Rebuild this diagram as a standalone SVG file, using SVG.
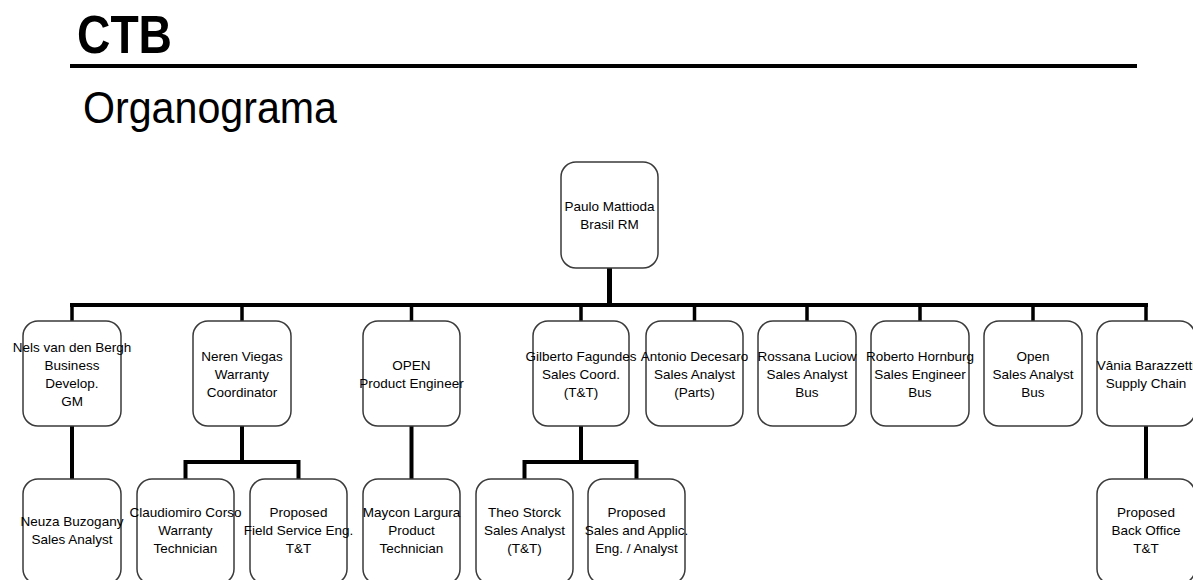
<svg xmlns="http://www.w3.org/2000/svg" width="1193" height="580" viewBox="0 0 1193 580">
  <style>
    .box { fill: #ffffff; stroke: #3a3a3a; stroke-width: 1.5; }
    .lbl { font-family: "Liberation Sans", Arial, sans-serif; font-size: 13.5px; fill: #000; text-anchor: middle; }
    .wire { fill: none; stroke: #000; stroke-width: 4; stroke-linejoin: miter; stroke-linecap: square; }
    .drop { fill: none; stroke: #000; stroke-width: 3.5; }
    .title { font-family: "Liberation Sans", Arial, sans-serif; fill: #000; }
  </style>

  <rect x="0" y="0" width="1193" height="580" fill="#ffffff"/>

  <!-- Header -->
  <g id="header">
    <text class="title" x="77" y="53" font-size="54" font-weight="bold" textLength="95" lengthAdjust="spacingAndGlyphs">CTB</text>
    <line x1="70" y1="66" x2="1137" y2="66" stroke="#000" stroke-width="4"/>
    <text class="title" x="83" y="123" font-size="45" textLength="254" lengthAdjust="spacingAndGlyphs">Organograma</text>
  </g>

  <!-- Connectors -->
  <g id="connectors">
    <line x1="609.5" y1="268" x2="609.5" y2="305" stroke="#000" stroke-width="5"/>
    <line class="wire" x1="72" y1="305" x2="1146" y2="305"/>
    <path class="drop" d="M72 305 V321 M242 305 V321 M411.5 305 V321 M581 305 V321 M694.5 305 V321 M807 305 V321 M920 305 V321 M1033 305 V321 M1146 305 V321"/>
    <path class="wire" d="M72 426 V479"/>
    <path class="wire" d="M242 426 V462 M185.5 479 V462 H298.5 V479"/>
    <path class="wire" d="M411.5 426 V479"/>
    <path class="wire" d="M581 426 V462 M524.5 479 V462 H636.5 V479"/>
    <path class="wire" d="M1146 426 V479"/>
  </g>

  <!-- Root -->
  <g id="n-mattioda">
    <rect class="box" x="561" y="162" width="97" height="106" rx="15"/>
    <text class="lbl" x="609.5" y="210.5">Paulo Mattioda</text>
    <text class="lbl" x="609.5" y="228.5">Brasil RM</text>
  </g>

  <!-- Second level -->
  <g id="n-bergh">
    <rect class="box" x="23" y="321" width="98" height="105" rx="15"/>
    <text class="lbl" x="72" y="351.5">Nels van den Bergh</text>
    <text class="lbl" x="72" y="369.5">Business</text>
    <text class="lbl" x="72" y="387.5">Develop.</text>
    <text class="lbl" x="72" y="405.5">GM</text>
  </g>
  <g id="n-viegas">
    <rect class="box" x="193" y="321" width="98" height="105" rx="15"/>
    <text class="lbl" x="242" y="360.5">Neren Viegas</text>
    <text class="lbl" x="242" y="378.5">Warranty</text>
    <text class="lbl" x="242" y="396.5">Coordinator</text>
  </g>
  <g id="n-open-pe">
    <rect class="box" x="363" y="321" width="97" height="105" rx="15"/>
    <text class="lbl" x="411.5" y="369.5">OPEN</text>
    <text class="lbl" x="411.5" y="387.5">Product Engineer</text>
  </g>
  <g id="n-fagundes">
    <rect class="box" x="533" y="321" width="96" height="105" rx="15"/>
    <text class="lbl" x="581" y="360.5">Gilberto Fagundes</text>
    <text class="lbl" x="581" y="378.5">Sales Coord.</text>
    <text class="lbl" x="581" y="396.5">(T&amp;T)</text>
  </g>
  <g id="n-decesaro">
    <rect class="box" x="646" y="321" width="97" height="105" rx="15"/>
    <text class="lbl" x="694.5" y="360.5">Antonio Decesaro</text>
    <text class="lbl" x="694.5" y="378.5">Sales Analyst</text>
    <text class="lbl" x="694.5" y="396.5">(Parts)</text>
  </g>
  <g id="n-luciow">
    <rect class="box" x="758" y="321" width="98" height="105" rx="15"/>
    <text class="lbl" x="807" y="360.5">Rossana Luciow</text>
    <text class="lbl" x="807" y="378.5">Sales Analyst</text>
    <text class="lbl" x="807" y="396.5">Bus</text>
  </g>
  <g id="n-hornburg">
    <rect class="box" x="871" y="321" width="98" height="105" rx="15"/>
    <text class="lbl" x="920" y="360.5">Roberto Hornburg</text>
    <text class="lbl" x="920" y="378.5">Sales Engineer</text>
    <text class="lbl" x="920" y="396.5">Bus</text>
  </g>
  <g id="n-open-sa">
    <rect class="box" x="984" y="321" width="98" height="105" rx="15"/>
    <text class="lbl" x="1033" y="360.5">Open</text>
    <text class="lbl" x="1033" y="378.5">Sales Analyst</text>
    <text class="lbl" x="1033" y="396.5">Bus</text>
  </g>
  <g id="n-barazzetti">
    <rect class="box" x="1097" y="321" width="98" height="105" rx="15"/>
    <text class="lbl" x="1146" y="369.5">Vânia Barazzetti</text>
    <text class="lbl" x="1146" y="387.5">Supply Chain</text>
  </g>

  <!-- Third level -->
  <g id="n-buzogany">
    <rect class="box" x="23" y="479" width="98" height="105" rx="15"/>
    <text class="lbl" x="72" y="525.5">Neuza Buzogany</text>
    <text class="lbl" x="72" y="543.5">Sales Analyst</text>
  </g>
  <g id="n-corso">
    <rect class="box" x="137" y="479" width="97" height="105" rx="15"/>
    <text class="lbl" x="185.5" y="516.5">Claudiomiro Corso</text>
    <text class="lbl" x="185.5" y="534.5">Warranty</text>
    <text class="lbl" x="185.5" y="552.5">Technician</text>
  </g>
  <g id="n-field-service">
    <rect class="box" x="250" y="479" width="97" height="105" rx="15"/>
    <text class="lbl" x="298.5" y="516.5">Proposed</text>
    <text class="lbl" x="298.5" y="534.5">Field Service Eng.</text>
    <text class="lbl" x="298.5" y="552.5">T&amp;T</text>
  </g>
  <g id="n-largura">
    <rect class="box" x="363" y="479" width="97" height="105" rx="15"/>
    <text class="lbl" x="411.5" y="516.5">Maycon Largura</text>
    <text class="lbl" x="411.5" y="534.5">Product</text>
    <text class="lbl" x="411.5" y="552.5">Technician</text>
  </g>
  <g id="n-storck">
    <rect class="box" x="476" y="479" width="97" height="105" rx="15"/>
    <text class="lbl" x="524.5" y="516.5">Theo Storck</text>
    <text class="lbl" x="524.5" y="534.5">Sales Analyst</text>
    <text class="lbl" x="524.5" y="552.5">(T&amp;T)</text>
  </g>
  <g id="n-sales-applic">
    <rect class="box" x="588" y="479" width="97" height="105" rx="15"/>
    <text class="lbl" x="636.5" y="516.5">Proposed</text>
    <text class="lbl" x="636.5" y="534.5">Sales and Applic.</text>
    <text class="lbl" x="636.5" y="552.5">Eng. / Analyst</text>
  </g>
  <g id="n-back-office">
    <rect class="box" x="1097" y="479" width="98" height="105" rx="15"/>
    <text class="lbl" x="1146" y="516.5">Proposed</text>
    <text class="lbl" x="1146" y="534.5">Back Office</text>
    <text class="lbl" x="1146" y="552.5">T&amp;T</text>
  </g>
</svg>
